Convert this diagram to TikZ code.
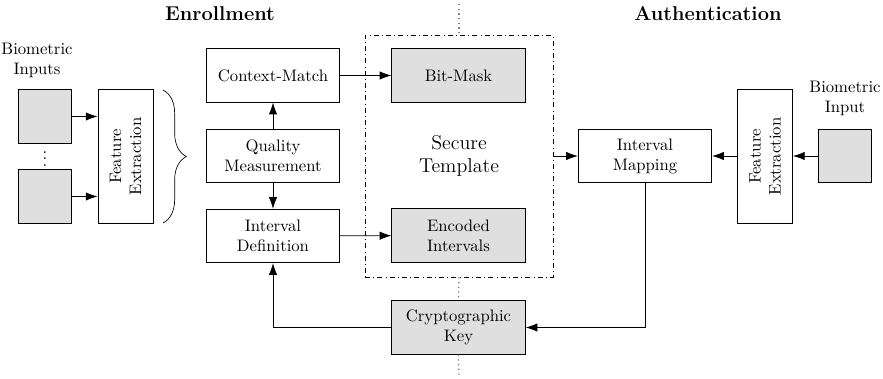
\documentclass[tikz,border=0pt]{standalone}
\usetikzlibrary{arrows.meta,decorations.pathreplacing}

\tikzset{
  box/.style={draw, semithick, minimum width=80pt, minimum height=32pt, align=center, inner sep=2pt},
  keybox/.style={box, fill=gray!25},
  sensor/.style={draw, semithick, fill=gray!25, minimum width=32pt, minimum height=32pt},
  fextract/.style={box, rotate=90, minimum width=80pt, minimum height=33pt},
  tmplbox/.style={draw, dash dot, minimum width=112.8pt, minimum height=145.2pt, align=center, font=\large},
  phase/.style={font=\large\bfseries},
  sep/.style={dotted, gray, thick},
}

\begin{document}
\begin{tikzpicture}[x=0.6pt, y=-0.6pt, >={Latex[length=7pt,width=5pt]}]
\useasboundingbox (0,0) rectangle (883,379);

\node[phase] (enroll) at (220,14) {Enrollment};
\node[phase] (auth) at (708,14) {Authentication};

%enrollment side
\node[align=center] (lblin) at (37,60) {Biometric\\Inputs};
\node[sensor] (in1) at (45,116.5) {};
\node[sensor] (in2) at (45,196.5) {};
\node[inner sep=0pt] (dots) at (45,154) {$\vdots$};
\node[fextract] (fe1) at (125.5,156.5) {Feature\\Extraction};
\foreach \i in {in1,in2} {\draw[thin,->] (\i.east) -- (\i.east -| fe1.north);}
\draw[thin, decorate, decoration={brace, amplitude=14pt}] (163,90) -- (163,223);

\node[box] (ctx) at (273,75.5) {Context-Match};
\node[box] (qual) at (273,156) {Quality\\Measurement};
\node[box] (idef) at (273,236) {Interval\\Definition};
\draw[thin,->] (qual) -- (ctx);
\draw[thin,->] (qual) -- (idef);

%template
\node[tmplbox] (tmpl) at (459,156) {Secure\\Template};
\node[keybox] (bmask) at (458.5,75.5) {Bit-Mask};
\node[keybox] (enc) at (458.5,235.5) {Encoded\\Intervals};
\node[keybox] (crypt) at (458.5,327.5) {Cryptographic\\Key};
\draw[thin,->] (ctx) -- (bmask);
\draw[thin,->] (idef) -- (enc);
\draw[thin,->] (crypt.west) -| (idef.south);

\draw[sep] (459,4) -- (tmpl.north);
\draw[sep] (tmpl.south) -- (crypt.north);
\draw[sep] (crypt.south) -- (459,377);

%authentication side
\node[box] (imap) at (645,156) {Interval\\Mapping};
\node[fextract] (fe2) at (765,156.5) {Feature\\Extraction};
\node[sensor] (in3) at (845,156) {};
\node[align=center] (lblone) at (845,98) {Biometric\\Input};
\draw[thin,->] (in3.west) -- (in3.west -| fe2.south);
\draw[thin,->] (fe2.north |- imap) -- (imap.east);
\draw[thin,->] (tmpl.east |- imap) -- (imap.west);
\draw[thin,->] (imap.south) |- (crypt.east);

\end{tikzpicture}
\end{document}
